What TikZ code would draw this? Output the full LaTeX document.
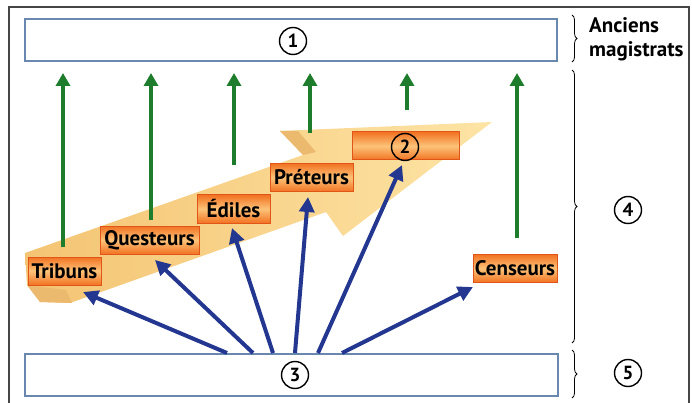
\documentclass[tikz,border=0pt]{standalone}
\usepackage{fontspec}
\setmainfont{PT Sans}
\usetikzlibrary{arrows.meta,decorations.pathreplacing}
\definecolor{frameg}{RGB}{70,70,70}
\definecolor{boxblue}{RGB}{105,135,175}
\definecolor{grn}{RGB}{30,125,45}
\definecolor{navy}{RGB}{35,55,145}
\definecolor{obord}{RGB}{225,85,25}
\definecolor{odark}{RGB}{242,115,35}
\definecolor{olight}{RGB}{252,195,120}
\definecolor{beigeA}{RGB}{244,196,115}
\definecolor{beigeB}{RGB}{253,228,165}
\definecolor{beigeD}{RGB}{236,186,110}
\begin{document}
\begin{tikzpicture}[x=1pt,y=-1pt,
  bigbox/.style={draw=boxblue,line width=1.3pt,fill=white,minimum width=#1,minimum height=42pt,inner sep=0pt},
  obox/.style={draw=obord,line width=1pt,top color=odark,bottom color=odark,middle color=olight,
    minimum width=#1,minimum height=28pt,inner sep=0pt,font=\bfseries\fontsize{21}{21}\selectfont},
  numc/.style={circle,draw=black,line width=1.4pt,minimum size=27pt,inner sep=0pt,
    font=\bfseries\fontsize{19}{19}\selectfont},
  garrow/.style={draw=grn,line width=4pt,-{Triangle[width=14pt,length=13pt]}},
  barrow/.style={draw=navy,line width=4pt,-{Triangle[width=15pt,length=15pt]}},
  brc/.style={decorate,decoration={brace,amplitude=5pt},line width=0.8pt,draw=black}
]
\useasboundingbox (0,0) rectangle (692,403);
% frame
\draw[frameg,line width=1.2pt] (9,410) -- (9,7) -- (689,7) -- (689,410);

% beige arrow
\shade[left color=beigeA,right color=beigeB]
  (25,253) -- (303,155) -- (280,131) -- (492,122) -- (343,236) -- (326,212)
  -- (70,303) -- (40,302) -- (27,285) -- cycle;
\fill[beigeD] (27,285) -- (40,302) -- (72,303) -- (66,290) -- cycle;
\fill[beigeD] (280,131) -- (298,131) -- (316,152) -- (303,155) -- cycle;

% big boxes
\node[bigbox=532pt] (b1) at (291,40) {};
\node[bigbox=533pt] (b3) at (291.5,375) {};
\node[numc] (n1) at (293,41) {1};
\node[numc] (n3) at (295,375) {3};

% green arrows
\coordinate (g1s) at (63,247);  \coordinate (g1e) at (63,73);
\coordinate (g2s) at (151,220); \coordinate (g2e) at (151,73);
\coordinate (g3s) at (234,165); \coordinate (g3e) at (234,73);
\coordinate (g4s) at (310,133); \coordinate (g4e) at (310,73);
\coordinate (g5s) at (407,110); \coordinate (g5e) at (407,73);
\coordinate (g6s) at (517,238); \coordinate (g6e) at (517,73);
\foreach \i in {1,...,6} {\draw[garrow] (g\i s) -- (g\i e);}

% blue arrows
\coordinate (s1) at (227,353); \coordinate (t1) at (83,292);
\coordinate (s2) at (253,353); \coordinate (t2) at (155,260);
\coordinate (s3) at (273,353); \coordinate (t3) at (232,228);
\coordinate (s4) at (295,353); \coordinate (t4) at (308,197);
\coordinate (s5) at (318,353); \coordinate (t5) at (402,165);
\coordinate (s6) at (342,353); \coordinate (t6) at (473,287);
\foreach \i in {1,...,6} {\draw[barrow] (s\i) -- (t\i);}

% orange boxes
\node[obox=73pt] (trib) at (64.5,271) {Tribuns};
\node[obox=99pt] (ques) at (149.5,240) {Questeurs};
\node[obox=73pt] (edil) at (233.5,209) {Édiles};
\node[obox=83pt] (pret) at (311.5,177.5) {Préteurs};
\node[obox=107pt] (b2) at (405.5,146) {};
\node[numc] (n2) at (405,147) {2};
\node[obox=84pt] (cens) at (515,268.5) {Censeurs};

% braces and side labels
\coordinate (br1a) at (572,15); \coordinate (br1b) at (572,62);
\coordinate (br4a) at (572,70); \coordinate (br4b) at (572,343);
\coordinate (br5a) at (572,350); \coordinate (br5b) at (572,398);
\draw[brc] (br1a) -- (br1b);
\draw[brc] (br4a) -- (br4b);
\draw[brc] (br5a) -- (br5b);
\node[anchor=north west,align=left,inner sep=0pt,font=\bfseries\fontsize{21}{24}\selectfont] (anc) at (589,17) {Anciens\\magistrats};
\node[numc] (n4) at (628,210) {4};
\node[numc] (n5) at (628,373) {5};
\end{tikzpicture}
\end{document}
